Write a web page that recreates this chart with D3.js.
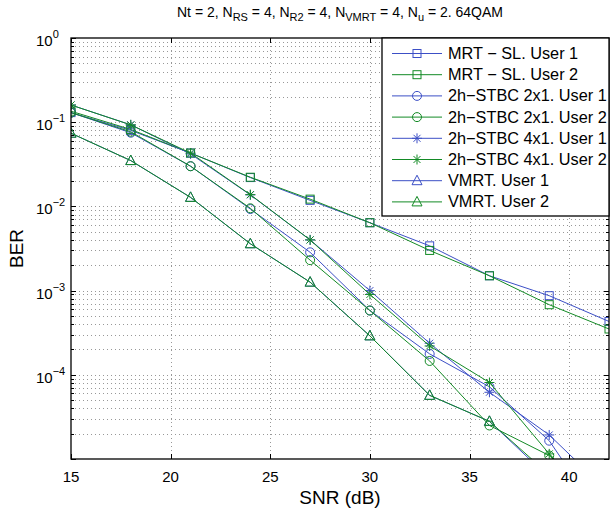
<!DOCTYPE html>
<html>
<head>
<meta charset="utf-8">
<script src="https://cdn.jsdelivr.net/npm/d3@7"></script>
<style>
    body { margin: 0; background: #fff; }
    svg text { font-family: "Liberation Sans", Arial, sans-serif; fill: #000; }
</style>
</head>
<body>
<div id="chart" style="width:611px;height:515px"></div>
<script>

// x values (SNR in dB)
const snr = [15, 18, 21, 24, 27, 30, 33, 36, 39, 42];

// BER values
const mrtUser1   = [0.13, 0.080, 0.043, 0.0220, 0.0118, 0.0064, 0.0034, 0.0015, 0.00087, 0.00043];
const mrtUser2   = [0.135, 0.082, 0.043, 0.0222, 0.0122, 0.0064, 0.0030, 0.0015, 0.00068, 0.00035];
const stbc2User1 = [0.13, 0.075, 0.030, 0.0093, 0.00285, 0.00058, 0.000177, 0.000072, 0.0000165, 0.0000015];
const stbc2User2 = [0.13, 0.077, 0.030, 0.0095, 0.0023, 0.00058, 0.000146, 0.000025, 0.000011, 0.0000025];
const stbc4User1 = [0.16, 0.093, 0.042, 0.0137, 0.0040, 0.0010, 0.000237, 0.000062, 0.0000193, 0.000004];
const stbc4User2 = [0.16, 0.093, 0.043, 0.0138, 0.0040, 0.0009, 0.00022, 0.000081, 0.0000115, 0.000002];
const vmrtUser1  = [0.074, 0.035, 0.0128, 0.0036, 0.00126, 0.00029, 0.000057, 0.000028, 0.000006, 0.000001];
const vmrtUser2  = [0.074, 0.035, 0.0128, 0.0036, 0.00126, 0.00029, 0.000057, 0.000028, 0.0000065, 0.000001];

const seriesNames = ["MRT \u2212 SL. User 1", "MRT \u2212 SL. User 2", "2h\u2212STBC 2x1. User 1", "2h\u2212STBC 2x1. User 2",
    "2h\u2212STBC 4x1. User 1", "2h\u2212STBC 4x1. User 2", "VMRT. User 1", "VMRT. User 2"];
const seriesValues = [mrtUser1, mrtUser2, stbc2User1, stbc2User2, stbc4User1, stbc4User2, vmrtUser1, vmrtUser2];
const seriesMarkers = ["square", "square", "circle", "circle", "star", "star", "triangle", "triangle"];

const xTicks = [15, 20, 25, 30, 35, 40];
const yExponents = [0, -1, -2, -3, -4];


class BerChart {

    constructor(_parentElement) {
        this.parentElement = _parentElement;
        this.initVis();
    }

    initVis() {
        let vis = this;

        vis.margin = {top: 38, right: 2, bottom: 56, left: 71};
        vis.width = 611 - vis.margin.left - vis.margin.right;
        vis.height = 515 - vis.margin.top - vis.margin.bottom;

        vis.root = d3.select("#" + vis.parentElement).append("svg")
            .attr("width", 611)
            .attr("height", 515);

        vis.svg = vis.root.append("g")
            .attr("transform", `translate(${vis.margin.left},${vis.margin.top})`);

        vis.colors = {blue: "#3c4fc6", green: "#138a25"};

        // scales
        vis.x = d3.scaleLinear().domain([15, 42]).range([0, vis.width]);
        vis.y = d3.scaleLog().domain([1e-5, 1]).range([vis.height, 0]);

        vis.svg.append("clipPath").attr("id", "plot-clip")
            .append("rect").attr("width", vis.width).attr("height", vis.height);

        // grid (dotted, like matlab)
        let grid = vis.svg.append("g").attr("class", "grid")
            .attr("stroke", "#555").attr("stroke-width", 1)
            .attr("stroke-dasharray", "1,3").attr("opacity", 0.6);

        let yGrid = vis.y.ticks().filter(t => t > 1.01e-5 && t < 0.99);
        grid.selectAll(".hgrid").data(yGrid).enter().append("line")
            .attr("x1", 0).attr("x2", vis.width)
            .attr("y1", d => Math.round(vis.y(d)) + 0.5)
            .attr("y2", d => Math.round(vis.y(d)) + 0.5);

        grid.selectAll(".vgrid").data(xTicks.slice(1)).enter().append("line")
            .attr("y1", 0).attr("y2", vis.height)
            .attr("x1", d => Math.round(vis.x(d)) + 0.5)
            .attr("x2", d => Math.round(vis.x(d)) + 0.5);

        // ticks inside the box
        let ticks = vis.svg.append("g").attr("stroke", "#000").attr("stroke-width", 1);
        xTicks.forEach(t => {
            let px = Math.round(vis.x(t)) + 0.5;
            ticks.append("line").attr("x1", px).attr("x2", px).attr("y1", vis.height).attr("y2", vis.height - 5);
            ticks.append("line").attr("x1", px).attr("x2", px).attr("y1", 0).attr("y2", 5);
        });
        vis.y.ticks().forEach(t => {
            let py = Math.round(vis.y(t)) + 0.5;
            let major = Math.abs(Math.log10(t) - Math.round(Math.log10(t))) < 1e-6;
            let len = major ? 5 : 3;
            ticks.append("line").attr("x1", 0).attr("x2", len).attr("y1", py).attr("y2", py);
            ticks.append("line").attr("x1", vis.width).attr("x2", vis.width - len).attr("y1", py).attr("y2", py);
        });

        // tick labels
        vis.svg.selectAll(".xlabel").data(xTicks).enter().append("text")
            .attr("x", d => vis.x(d))
            .attr("y", vis.height + 23)
            .attr("text-anchor", "middle")
            .attr("font-size", 15)
            .text(d => d);

        let yl = vis.svg.selectAll(".ylabel").data(yExponents).enter().append("text")
            .attr("y", d => vis.y(Math.pow(10, d)) + 8)
            .attr("font-size", 15);
        yl.append("tspan").attr("x", -35).text("10");
        yl.append("tspan").attr("dy", -8).attr("font-size", 11)
            .text(d => d === 0 ? "0" : "\u2212" + (-d));

        // axis titles
        vis.svg.append("text")
            .attr("x", vis.width / 2).attr("y", vis.height + 45)
            .attr("text-anchor", "middle").attr("font-size", 19)
            .text("SNR (dB)");

        vis.svg.append("text")
            .attr("transform", `translate(-48,${vis.height / 2}) rotate(-90)`)
            .attr("text-anchor", "middle").attr("font-size", 19)
            .text("BER");

        // title with subscripts
        let title = vis.svg.append("text")
            .attr("x", vis.width / 2).attr("y", -21)
            .attr("text-anchor", "middle").attr("font-size", 14);
        let parts = [["Nt = 2, N", false], ["RS", true], [" = 4, N", false], ["R2", true],
            [" = 4, N", false], ["VMRT", true], [" = 4, N", false], ["u", true], [" = 2. 64QAM", false]];
        let shifted = false;
        parts.forEach(p => {
            let ts = title.append("tspan").text(p[0]);
            if (p[1]) { ts.attr("font-size", 11).attr("dy", 4); shifted = true; }
            else if (shifted) { ts.attr("dy", -4); shifted = false; }
        });

        vis.plot = vis.svg.append("g").attr("clip-path", "url(#plot-clip)");

        vis.wrangleData();
    }

    wrangleData() {
        let vis = this;
        vis.displayData = seriesValues.map((vals, i) => ({
            name: seriesNames[i],
            marker: seriesMarkers[i],
            color: i % 2 === 0 ? vis.colors.blue : vis.colors.green,
            points: vals.map((v, j) => ({x: snr[j], y: v}))
        }));
        vis.updateVis();
    }

    drawMarker(sel, type, color) {
        sel.attr("fill", "none").attr("stroke", color).attr("stroke-width", 1);
        if (type === "square") {
            sel.append("rect").attr("x", -4).attr("y", -4).attr("width", 8).attr("height", 8);
        } else if (type === "circle") {
            sel.append("circle").attr("r", 4.5);
        } else if (type === "triangle") {
            sel.append("path").attr("d", "M0,-5.5L5,4L-5,4Z");
        } else {
            sel.append("path").attr("d", "M0,-5V5M-5,0H5M-3.5,-3.5L3.5,3.5M-3.5,3.5L3.5,-3.5");
        }
    }

    updateVis() {
        let vis = this;

        let line = d3.line()
            .x(d => vis.x(d.x))
            .y(d => vis.y(d.y));

        vis.displayData.forEach(s => {
            let g = vis.plot.append("g").attr("class", "series");
            g.append("path")
                .datum(s.points)
                .attr("d", line)
                .attr("fill", "none")
                .attr("stroke", s.color)
                .attr("stroke-width", 1);
            s.points.forEach(p => {
                let m = g.append("g").attr("transform", `translate(${vis.x(p.x)},${vis.y(p.y)})`);
                vis.drawMarker(m, s.marker, s.color);
            });
        });

        // box
        vis.svg.append("rect")
            .attr("x", 0).attr("y", 0).attr("width", vis.width).attr("height", vis.height)
            .attr("fill", "none").attr("stroke", "#000").attr("stroke-width", 1.3);

        // legend
        let legend = vis.root.append("g").attr("transform", "translate(382,38)");
        legend.append("rect")
            .attr("width", 227).attr("height", 178)
            .attr("fill", "#fff").attr("stroke", "#000").attr("stroke-width", 1.3);

        vis.displayData.forEach((s, i) => {
            let row = legend.append("g").attr("transform", `translate(0,${15.5 + i * 21.2})`);
            row.append("line").attr("x1", 10).attr("x2", 60)
                .attr("stroke", s.color).attr("stroke-width", 1);
            vis.drawMarker(row.append("g").attr("transform", "translate(35,0)"), s.marker, s.color);
            row.append("text").attr("x", 66).attr("y", 5.5)
                .attr("font-size", 16.3).text(s.name);
        });
    }
}

new BerChart("chart");

</script>
</body>
</html>
